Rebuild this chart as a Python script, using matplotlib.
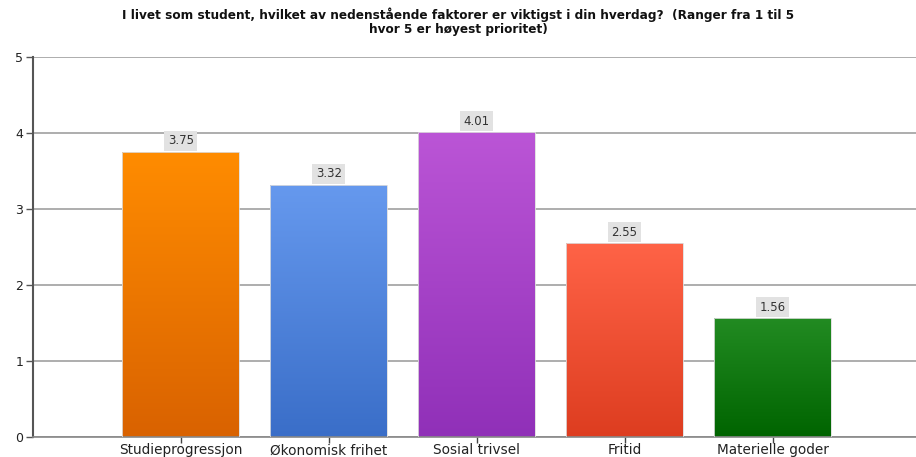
import numpy as np
import matplotlib
matplotlib.use("Agg")
import matplotlib.pyplot as plt
from matplotlib.colors import LinearSegmentedColormap

categories = ["Studieprogressjon", "Økonomisk frihet", "Sosial trivsel", "Fritid", "Materielle goder"]
values = [3.75, 3.32, 4.01, 2.55, 1.56]
top_colors = ["#ff8c00", "#6699ee", "#bb55d6", "#ff6347", "#228b22"]
bottom_colors = ["#d96200", "#3a6ec8", "#9030b8", "#dd3d20", "#006400"]
title = "I livet som student, hvilket av nedenstående faktorer er viktigst i din hverdag?  (Ranger fra 1 til 5\nhvor 5 er høyest prioritet)"

plt.rcParams['font.family'] = ['DejaVu Sans']

fig = plt.figure(figsize=(9.16, 4.57), dpi=100)
ax = fig.add_axes([33 / 916, 1 - 437 / 457, (916 - 33) / 916, (437 - 57) / 457])

x = np.arange(len(categories))
width = 0.79
bars = ax.bar(x, values, width=width, color="none", edgecolor="#dddddd", linewidth=0.6, zorder=3)
grad = np.linspace(0, 1, 256).reshape(-1, 1)
for b, v, tc, bc in zip(bars, values, top_colors, bottom_colors):
    cmap = LinearSegmentedColormap.from_list("g", [bc, tc])
    x0 = b.get_x()
    im = ax.imshow(grad, cmap=cmap, origin="lower", aspect="auto",
                   extent=[x0, x0 + width, 0, v], zorder=2)
    im.set_clip_path(b)
    ax.text(b.get_x() + width / 2, v + 0.06, f"{v:.2f}", ha="center", va="bottom",
            fontsize=8.5, color="#333333", zorder=4,
            bbox=dict(boxstyle="square,pad=0.3", fc="#e2e2e2", ec="none"))

ax.set_xlim(-1, 4.97)
ax.set_ylim(0, 5)
ax.set_yticks([0, 1, 2, 3, 4, 5])
ax.set_xticks(x)
ax.set_xticklabels(categories, fontsize=9.8, color="#222222")
ax.tick_params(axis="y", labelsize=9, colors="#555555", length=5, width=1, pad=2)
ax.tick_params(axis="x", length=4, width=1, colors="#444444", pad=0.5)
for lbl in ax.get_yticklabels() + ax.get_xticklabels():
    lbl.set_color("#222222")
ax.yaxis.grid(True, color="#a0a0a0", linewidth=1.2, zorder=0)
ax.set_axisbelow(True)
for s in ["top", "right"]:
    ax.spines[s].set_visible(False)
ax.spines["left"].set_color("#555555")
ax.spines["left"].set_linewidth(1.5)
ax.spines["bottom"].set_color("#888888")
ax.spines["bottom"].set_linewidth(1.2)

fig.text(0.5, 1 - 7 / 457, title, ha="center", va="top", fontsize=8.7, fontweight="bold",
         color="#111111", linespacing=1.1)

fig.savefig("out.png", dpi=100)
